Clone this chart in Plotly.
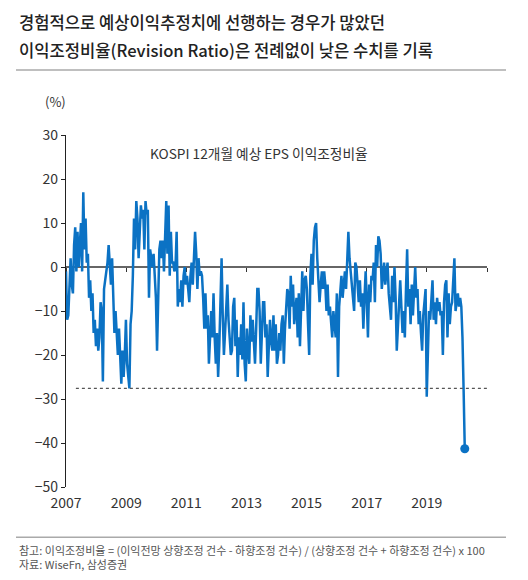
import plotly.graph_objects as go
import pandas as pd

# KOSPI 12개월 예상 EPS 이익조정비율 (%), 2주 간격으로 읽은 값
ratio_2007 = [-1, -12, -11, -3, 2, -4, -6, 5, 9, -1, 8, 0, 7, 10, -1, 17, 4, 11, 1, 3, -7, -3, -10, -6, -15, -12]
ratio_2008 = [-18, -14, -19, -16, -8, -10, -26, -5, -3, -1, 1, 5, 1, -4, 2, -6, -15, -10, -16, -20, -14, -22, -26.5, -19, -25, -20]
ratio_2009 = [-12, -22, -25, -27.6, -13, -10, -2, 11, 4, 15, 11, 2, 8, 14, 11, 13, 4, 15, 12, 13, -7, 4, 2, 0, 3, -3]
ratio_2010 = [-7, -19, -2, 4, 6, 2, 6, -1, 7, 15, 3, 14, -2, 8, 1, 1, -1, 0, 8, -9, -5, -8, -3, -9, -2, 0]
ratio_2011 = [-4, -2, -5, -8, -2, 1, -4, 1, 8, 3, -5, 2, -2, -1, -2, -7, -14, -6, -14, -11, -22, -16, -10, -16, -6, -16]
ratio_2012 = [-22, -15, -25, -18, -10, 2, -11, -20, -15, -8, -4, -12, -16, -20, -19, -9, -7, -18, -12, -25, -16, -20, -13, -21, -8, -22]
ratio_2013 = [-26, -14, -19, -22, -11, -17, -12, -18, -22, -14, -5, -5, -10, -22, -16, -8, -8, -16, -13, -25, -18, -12, -17, -19, -11, -19]
ratio_2014 = [-13, -22, -20, -15, -19, -13, -11, -22, -14, -9, -5, -6, -14, -2, -9, -4, -13, -10, -7, -16, -6, -18, -9, -1, -10, -3]
ratio_2015 = [-2, -5, -13, -20, -2, 3, -4, 6, 9, 10, 2, -3, -8, -4, -1, -5, -1, -4, -10, -4, -11, -9, -12, -16, -10, -14]
ratio_2016 = [-16, -6, -25, -9, -4, -2, -7, -4, -1, -5, 3, 8, 2, -1, -3, -6, -10, 1, 0, -4, -8, -3, -9, -6, -14, -7]
ratio_2017 = [-1, -8, -16, -4, -8, -2, -3, 1, -8, 5, 0, 7, 6, 3, -5, -2, 1, -4, -1, 1, -6, -10, -12, -2, -8, 0]
ratio_2018 = [-7, -19, -13, -8, -3, -9, -15, -10, -16, -5, 4, -9, -5, -13, -4, -11, -5, 0, -7, -5, -13, -10, -15, -19, -11, -8]
ratio_2019 = [-5, -29.5, -16, -10, -12, -6, -3, -12, -8, -13, -7, -10, -8, -11, -10, -20, -8, -4, -3, -16, -6, -13, -9, -8, -4, 2]
ratio_2020 = [-10, -8, -6, -9, -7, -9, -16, -28, -41.3]

ratio = (ratio_2007 + ratio_2008 + ratio_2009 + ratio_2010 + ratio_2011 + ratio_2012 + ratio_2013
         + ratio_2014 + ratio_2015 + ratio_2016 + ratio_2017 + ratio_2018 + ratio_2019 + ratio_2020)
dates = pd.date_range("2007-01-01", periods=len(ratio), freq="14D")

year_ticks = ["2007-01-01", "2009-01-01", "2011-01-01", "2013-01-01", "2015-01-01", "2017-01-01", "2019-01-01"]
year_labels = ["2007", "2009", "2011", "2013", "2015", "2017", "2019"]

threshold = -27.6
threshold_dates = ["2007-05-01", "2021-01-01"]

BLUE = "#0B72C4"
FONT = "Noto Sans CJK KR"

# 페이지 body 여백(8px) 만큼 줄여서 창 크기에 맞춤
OFF = 8
W, H = 528 - 2 * OFF, 580 - 2 * OFF
L, T = 66 - OFF, 135 - OFF
R = W - (487 - OFF)
B = H - (486.7 - OFF)


def px(x):
    return (x - OFF - L) / (W - L - R)


def py(y):
    return (H - B - (y - OFF)) / (H - T - B)


fig = go.Figure()

fig.add_trace(go.Scatter(
    x=threshold_dates, y=[threshold, threshold], xaxis="x2", yaxis="y",
    mode="lines", line=dict(color="#555555", width=1.2, dash="3px,3px"),
    hoverinfo="skip", showlegend=False,
))
fig.add_trace(go.Scatter(
    x=dates, y=ratio, mode="lines",
    line=dict(color=BLUE, width=2.5), showlegend=False,
))
fig.add_trace(go.Scatter(
    x=[dates[-1]], y=[ratio[-1]], mode="markers",
    marker=dict(color=BLUE, size=9), showlegend=False,
))

fig.update_layout(
    width=W, height=H,
    margin=dict(l=L, r=R, t=T, b=B),
    paper_bgcolor="white", plot_bgcolor="white",
    font=dict(family=FONT, color="#333333"),
    xaxis=dict(
        range=["2007-01-01", "2021-01-01"],
        tickvals=year_ticks, ticktext=year_labels,
        showline=False, ticks="", showgrid=False, zeroline=False,
        tickfont=dict(size=14, color="#333333"),
        ticklabelstandoff=6,
    ),
    xaxis2=dict(
        range=["2007-01-01", "2021-01-01"],
        overlaying="x", anchor="free", position=0.625,
        showline=True, linecolor="#666666", linewidth=1.5,
        ticks="outside", ticklen=4, tickcolor="#333333", tickwidth=1,
        tick0="2007-01-01", dtick="M24",
        showticklabels=False, showgrid=False, zeroline=False,
        layer="below traces",
    ),
    yaxis=dict(
        range=[-50, 30], dtick=10,
        showline=True, linecolor="#222222", linewidth=1.2,
        ticks="outside", ticklen=4, tickcolor="#222222",
        showgrid=False, zeroline=False,
        tickfont=dict(size=14, color="#333333"),
    ),
    shapes=[
        dict(type="line", xref="paper", yref="paper", x0=px(16), x1=px(506), y0=py(70), y1=py(70),
             line=dict(color="#aaaaaa", width=1.5)),
        dict(type="line", xref="paper", yref="paper", x0=px(16), x1=px(506), y0=py(537), y1=py(537),
             line=dict(color="#aaaaaa", width=1.5)),
    ],
    annotations=[
        dict(text="경험적으로 예상이익추정치에 선행하는 경우가 많았던", x=px(17), y=py(22),
             xanchor="left", yanchor="middle", font=dict(size=16.6, color="#222222", weight=500)),
        dict(text="이익조정비율(Revision Ratio)은 전례없이 낮은 수치를 기록", x=px(17), y=py(50),
             xanchor="left", yanchor="middle", font=dict(size=16.6, color="#222222", weight=500)),
        dict(text="(%)", x=px(55), y=py(102), xanchor="center", yanchor="middle",
             font=dict(size=13, color="#333333")),
        dict(text="KOSPI 12개월 예상 EPS 이익조정비율", x=px(259), y=py(153),
             xanchor="center", yanchor="middle", font=dict(size=13.7, color="#333333")),
        dict(text="참고: 이익조정비율 = (이익전망 상향조정 건수 - 하향조정 건수) / (상향조정 건수 + 하향조정 건수) x 100"
                  "<br>자료: WiseFn, 삼성증권",
             x=px(18), y=py(556.5), xanchor="left", yanchor="middle", align="left",
             font=dict(size=11, color="#555555"), borderpad=0),
    ],
)
for a in fig.layout.annotations:
    a.update(xref="paper", yref="paper", showarrow=False)

fig.write_html("out.html")
